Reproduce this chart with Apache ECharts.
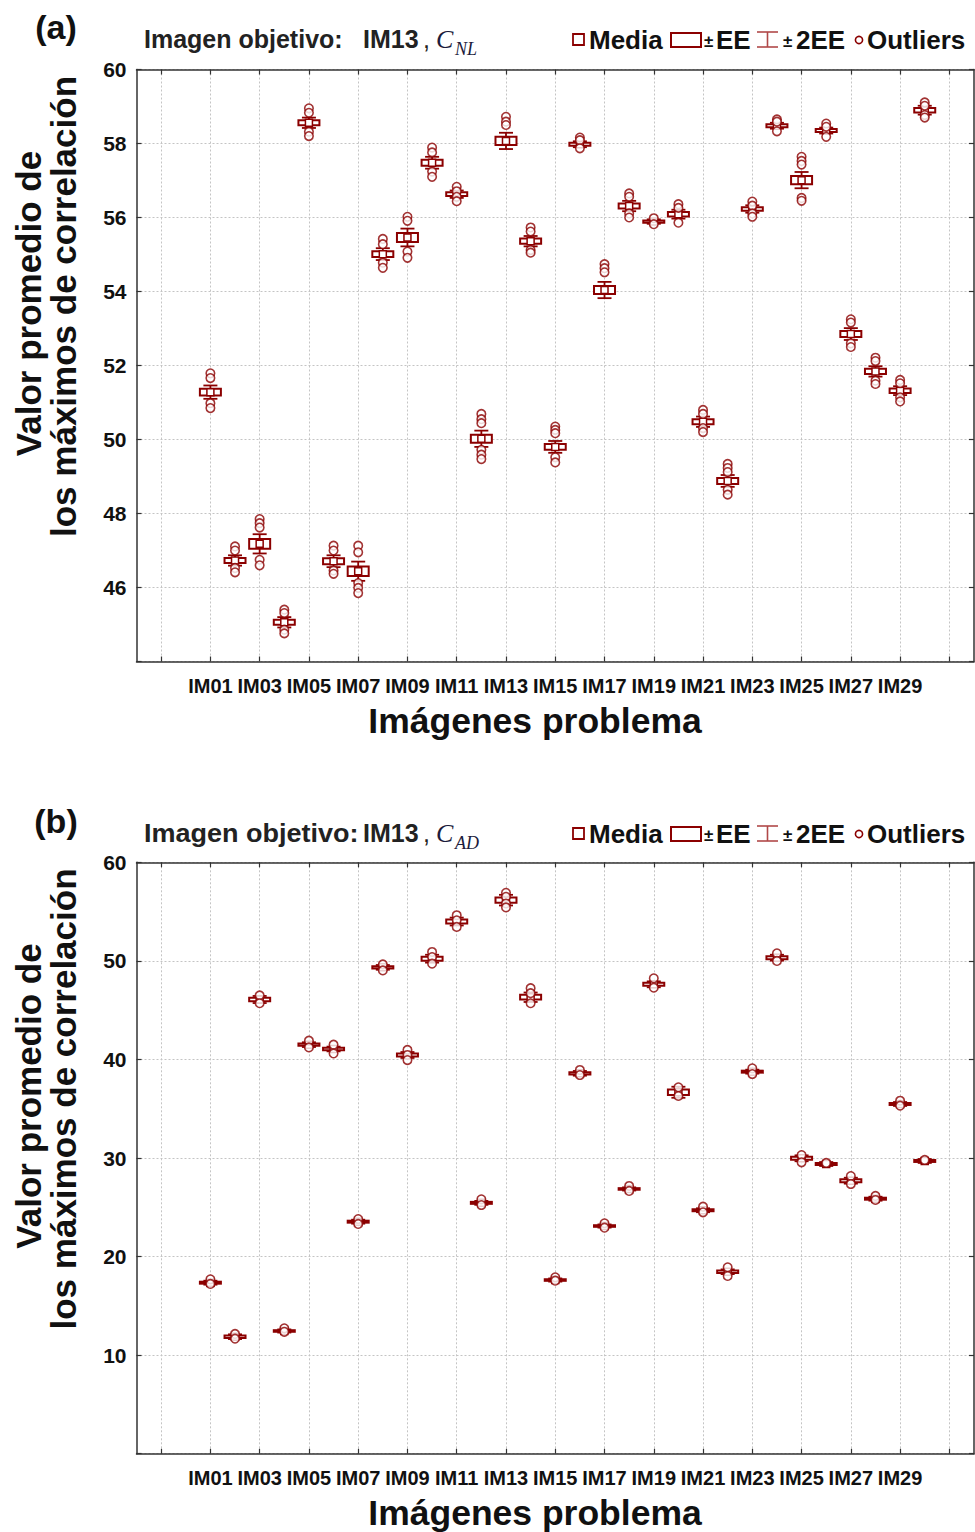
<!DOCTYPE html>
<html>
<head>
<meta charset="utf-8">
<script src="https://cdn.jsdelivr.net/npm/echarts@6/dist/echarts.min.js"></script>
<style>
  html, body { margin: 0; padding: 0; background: #fff; }
  #chart { width: 975px; height: 1532px; }
</style>
</head>
<body>
<div id="chart"></div>
<script>
// Image labels along the x axis
const images = ['IM01','IM02','IM03','IM04','IM05','IM06','IM07','IM08','IM09','IM10',
                'IM11','IM12','IM13','IM14','IM15','IM16','IM17','IM18','IM19','IM20',
                'IM21','IM22','IM23','IM24','IM25','IM26','IM27','IM28','IM29','IM30'];

// (a) C_NL: mean of correlation maxima, standard error, outliers
const meanNL = [51.28, 46.73, 47.18, 45.06, 58.56, 46.71, 46.44, 55.01, 55.46, 57.48,
                56.63, 50.02, 58.07, 55.36, 49.80, 57.98, 54.04, 56.31, 55.89, 56.09,
                50.48, 48.88, 56.23, 58.48, 57.01, 58.35, 52.85, 51.84, 51.32, 58.90];
const seNL = [0.09, 0.07, 0.13, 0.07, 0.07, 0.08, 0.13, 0.08, 0.12, 0.08,
              0.05, 0.11, 0.11, 0.07, 0.08, 0.04, 0.11, 0.07, 0.03, 0.06,
              0.07, 0.08, 0.05, 0.04, 0.11, 0.04, 0.08, 0.07, 0.06, 0.06];
const outliersNL = [
  [51.79, 51.66, 50.98, 50.85], [47.11, 47.00, 46.53, 46.41], [47.85, 47.74, 47.62, 46.75, 46.60],
  [45.40, 45.31, 44.86, 44.76], [58.95, 58.83, 58.32, 58.20], [47.13, 47.00, 46.46, 46.37],
  [47.13, 46.95, 46.12, 45.99, 45.85], [55.42, 55.28, 54.78, 54.64], [56.02, 55.91, 55.08, 54.91],
  [57.89, 57.76, 57.24, 57.10], [56.83, 56.71, 56.56, 56.44], [50.69, 50.55, 50.44, 49.72, 49.59, 49.47],
  [58.72, 58.59, 58.50], [55.73, 55.62, 55.12, 55.05], [50.35, 50.26, 50.17, 49.52, 49.38],
  [58.16, 58.09, 57.87], [54.74, 54.63, 54.52], [56.65, 56.56, 56.11, 56.00],
  [55.98, 55.82], [56.36, 56.26, 55.86], [50.80, 50.69, 50.31, 50.20],
  [49.34, 49.23, 49.12, 48.64, 48.51], [56.43, 56.32, 56.11, 56.02], [58.65, 58.59, 58.33],
  [57.64, 57.53, 57.43, 56.53, 56.45], [58.54, 58.45, 58.18], [53.25, 53.16, 52.60, 52.50],
  [52.21, 52.12, 51.59, 51.50], [51.61, 51.52, 51.14, 51.03], [59.11, 59.02, 58.77, 58.70]
];

// (b) C_AD: mean of correlation maxima, standard error, outliers
const meanAD = [17.35, 11.87, 46.08, 12.45, 41.50, 41.06, 23.54, 49.34, 40.45, 50.22,
                53.99, 25.45, 56.16, 46.31, 17.62, 38.59, 23.10, 26.86, 47.62, 36.67,
                24.70, 18.46, 38.76, 50.32, 29.97, 29.39, 27.70, 25.87, 35.48, 29.70];
const seAD = [0.10, 0.12, 0.18, 0.08, 0.12, 0.12, 0.10, 0.12, 0.15, 0.20,
              0.20, 0.10, 0.27, 0.24, 0.08, 0.12, 0.08, 0.08, 0.15, 0.28,
              0.10, 0.12, 0.10, 0.15, 0.15, 0.10, 0.15, 0.10, 0.10, 0.10];
const outliersAD = [
  [17.69, 17.22], [12.15, 11.67], [46.50, 45.70], [12.72, 12.37], [41.90, 41.22],
  [41.50, 40.61], [23.81, 23.31], [49.64, 49.03], [40.96, 40.45, 39.94], [50.90, 50.39, 49.71],
  [54.63, 54.12, 53.44], [25.81, 25.23], [56.90, 56.50, 55.82, 55.42], [47.23, 46.72, 45.70], [17.90, 17.55],
  [38.93, 38.42], [23.38, 22.93], [27.16, 26.66], [48.23, 47.28], [37.17, 36.29],
  [25.06, 24.49], [18.91, 18.03], [39.10, 38.52], [50.77, 49.99], [30.30, 29.56],
  [29.50], [28.17, 27.36], [26.15, 25.74], [35.81, 35.31], [29.80]
];

const RED = '#8b0000';
const SANS = '"Liberation Sans", Arial, Helvetica, sans-serif';
const SERIF = '"Liberation Serif", "Times New Roman", serif';

// Axis slots: three empty slots before IM01 and two after IM30
const axisCats = [' ', '  ', '   '].concat(images, ['    ', '     ']);
const FIRST = 3; // slot index of IM01
const oddSlot = (idx) => idx % 2 === 1;

const boxData = (means, ses) => means.map((m, i) => [i + FIRST, m, ses[i]]);
const outlierData = (outs) => outs.flatMap((arr, i) => arr.map(v => [i + FIRST, v]));

// Mean square, ±SE box and ±2SE whisker for one image
function renderBox(params, api) {
  const xi = api.value(0), m = api.value(1), se = api.value(2);
  const c = api.coord([xi, m]);
  const cx = c[0], cy = c[1];
  const yT1 = api.coord([xi, m + se])[1], yB1 = api.coord([xi, m - se])[1];
  const yT2 = api.coord([xi, m + 2 * se])[1], yB2 = api.coord([xi, m - 2 * se])[1];
  const bw = 21, cw = 14, ms = 7;
  const ln = { stroke: RED, lineWidth: 1.8 };
  return {
    type: 'group',
    children: [
      { type: 'line', shape: { x1: cx, y1: yT2, x2: cx, y2: yB2 }, style: ln },
      { type: 'line', shape: { x1: cx - cw / 2, y1: yT2, x2: cx + cw / 2, y2: yT2 }, style: ln },
      { type: 'line', shape: { x1: cx - cw / 2, y1: yB2, x2: cx + cw / 2, y2: yB2 }, style: ln },
      { type: 'rect', shape: { x: cx - bw / 2, y: yT1, width: bw, height: Math.max(yB1 - yT1, 0.5) },
        style: { fill: '#fff', stroke: RED, lineWidth: 2 } },
      { type: 'rect', shape: { x: cx - ms / 2, y: cy - ms / 2, width: ms, height: ms },
        style: { fill: '#fff', stroke: RED, lineWidth: 1.5 } }
    ]
  };
}

function xAxes(gi) {
  const line = { show: true, onZero: false, lineStyle: { color: '#333', width: 1.5 } };
  const tick = { show: true, inside: true, length: 5, interval: oddSlot, lineStyle: { color: '#333', width: 1.2 } };
  return [
    { type: 'category', gridIndex: gi, data: axisCats, boundaryGap: false, position: 'bottom',
      axisLine: line, axisTick: tick,
      axisLabel: { interval: oddSlot, margin: 14, fontSize: 20, fontWeight: 'bold', color: '#111', fontFamily: SANS },
      splitLine: { show: true, interval: oddSlot, lineStyle: { color: '#c4c4c4', width: 1, type: [2, 2] } } },
    { type: 'category', gridIndex: gi, data: axisCats, boundaryGap: false, position: 'top',
      axisLine: line, axisTick: tick, axisLabel: { show: false }, splitLine: { show: false } }
  ];
}

function yAxes(gi, min, max, interval) {
  const line = { show: true, onZero: false, lineStyle: { color: '#333', width: 1.5 } };
  const tick = { show: true, inside: true, length: 5, lineStyle: { color: '#333', width: 1.2 } };
  return [
    { type: 'value', gridIndex: gi, min: min, max: max, interval: interval, position: 'left',
      axisLine: line, axisTick: tick,
      axisLabel: { formatter: v => (v === min ? '' : String(v)), margin: 10, fontSize: 21,
                   fontWeight: 'bold', color: '#111', fontFamily: SANS },
      splitLine: { show: true, lineStyle: { color: '#c4c4c4', width: 1, type: [2, 2] } } },
    { type: 'value', gridIndex: gi, min: min, max: max, interval: interval, position: 'right',
      axisLine: line, axisTick: tick, axisLabel: { show: false }, splitLine: { show: false } }
  ];
}

function txt(x, y, text, font, fill, align) {
  return {
    type: 'text', x: x, y: y, silent: true,
    style: { text: text, font: font, fill: fill || '#111', align: align || 'left', verticalAlign: 'middle' }
  };
}

// Panel label, title, legend and axis names for one panel
function decorations(y0, plotTop, plotBottom, panel, subscript, titleScale) {
  const els = [];
  const ty = y0 + 39;
  els.push(txt(56, y0 + 27, panel, 'bold 34px ' + SANS, '#111', 'center'));
  const head = txt(144, ty, 'Imagen objetivo:', 'bold 25px ' + SANS, '#222');
  head.scaleX = titleScale;
  els.push(head);
  els.push(txt(363, ty, 'IM13', 'bold 25px ' + SANS, '#222'));
  els.push(txt(423, ty, ',', '25px ' + SANS, '#222'));
  els.push(txt(436, ty, 'C', 'italic 26px ' + SERIF, '#1c1c3c'));
  els.push(txt(455, ty + 10, subscript, 'italic 18px ' + SERIF, '#1c1c3c'));

  // legend
  const ly = y0 + 40;
  const big = 'bold 26px ' + SANS, small = 'bold 17px ' + SANS;
  els.push({ type: 'rect', silent: true, shape: { x: 573, y: ly - 6, width: 11, height: 11 }, style: { fill: '#fff', stroke: RED, lineWidth: 1.8 } });
  els.push(txt(589, ly, 'Media', big));
  els.push({ type: 'rect', silent: true, shape: { x: 671, y: ly - 7, width: 30, height: 14 }, style: { fill: '#fff', stroke: RED, lineWidth: 2 } });
  els.push(txt(704, ly + 1, '±', small));
  els.push(txt(716, ly, 'EE', big));
  const wc = '#b04848';
  els.push({ type: 'line', silent: true, shape: { x1: 757, y1: ly - 8, x2: 778, y2: ly - 8 }, style: { stroke: wc, lineWidth: 1.6 } });
  els.push({ type: 'line', silent: true, shape: { x1: 767.5, y1: ly - 8, x2: 767.5, y2: ly + 7 }, style: { stroke: wc, lineWidth: 1.6 } });
  els.push({ type: 'line', silent: true, shape: { x1: 757, y1: ly + 7, x2: 778, y2: ly + 7 }, style: { stroke: wc, lineWidth: 1.6 } });
  els.push(txt(783, ly + 1, '±', small));
  els.push(txt(796, ly, '2EE', big));
  els.push({ type: 'circle', silent: true, shape: { cx: 859, cy: ly, r: 3.6 }, style: { fill: '#fff', stroke: RED, lineWidth: 1.6 } });
  els.push(txt(867, ly, 'Outliers', big));

  // y-axis name (two lines, rotated)
  const mid = (plotTop + plotBottom) / 2 - 60;
  const yn = 'bold 35px ' + SANS;
  const l1 = txt(28, mid - 2, 'Valor promedio de', yn, '#111', 'center');
  l1.rotation = Math.PI / 2;
  const l2 = txt(63, mid + 1, 'los máximos de correlación', yn, '#111', 'center');
  l2.rotation = Math.PI / 2;
  els.push(l1, l2);
  // x-axis name
  els.push(txt(535, plotBottom + 59, 'Imágenes problema', 'bold 35.5px ' + SANS, '#111', 'center'));
  return els;
}

const chart = echarts.init(document.getElementById('chart'), null, { renderer: 'svg', width: 975, height: 1532 });

const topA = 69.5, botA = 661.5, topB = 862.3, botB = 1453.7;

chart.setOption({
  animation: false,
  backgroundColor: '#fff',
  grid: [
    { left: 136.5, right: 1, top: topA, height: botA - topA },
    { left: 136.5, right: 1, top: topB, height: botB - topB }
  ],
  xAxis: xAxes(0).concat(xAxes(1)),
  yAxis: yAxes(0, 44, 60, 2).concat(yAxes(1, 0, 60, 10)),
  series: [
    { type: 'custom', name: 'NL', xAxisIndex: 0, yAxisIndex: 0, renderItem: renderBox,
      encode: { x: 0, y: 1 }, data: boxData(meanNL, seNL), z: 3, silent: true },
    { type: 'scatter', name: 'NL outliers', xAxisIndex: 0, yAxisIndex: 0, data: outlierData(outliersNL),
      symbol: 'circle', symbolSize: 8.5, z: 4, silent: true,
      itemStyle: { color: '#fff', borderColor: RED, borderWidth: 1.6 } },
    { type: 'custom', name: 'AD', xAxisIndex: 2, yAxisIndex: 2, renderItem: renderBox,
      encode: { x: 0, y: 1 }, data: boxData(meanAD, seAD), z: 3, silent: true },
    { type: 'scatter', name: 'AD outliers', xAxisIndex: 2, yAxisIndex: 2, data: outlierData(outliersAD),
      symbol: 'circle', symbolSize: 8.5, z: 4, silent: true,
      itemStyle: { color: '#fff', borderColor: RED, borderWidth: 1.6 } }
  ],
  graphic: { elements: decorations(0, topA, botA, '(a)', 'NL', 1)
                        .concat(decorations(794, topB, botB, '(b)', 'AD', 1.08)) }
});
</script>
</body>
</html>
